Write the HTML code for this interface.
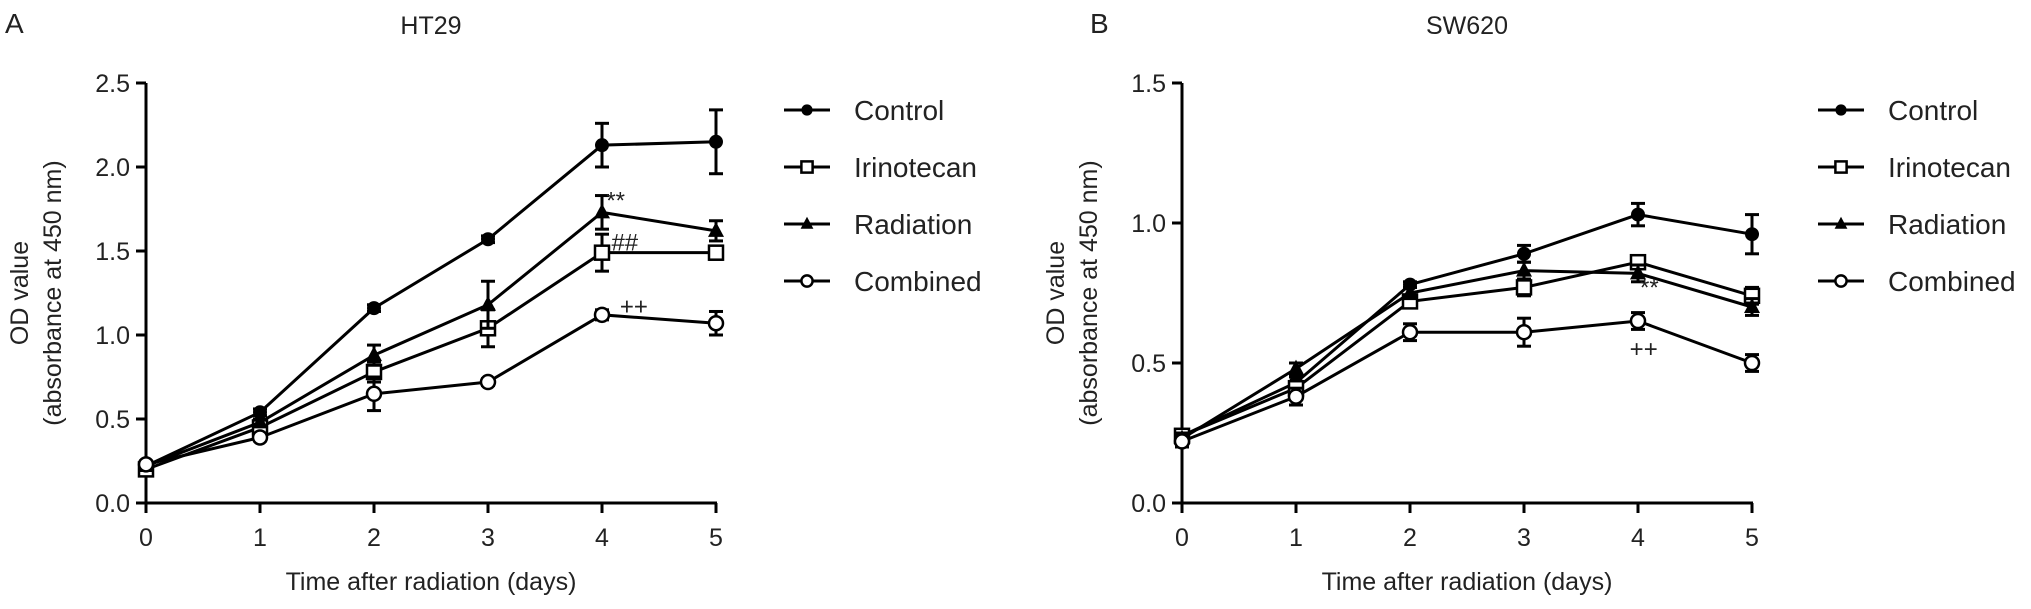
<!DOCTYPE html>
<html><head><meta charset="utf-8"><style>
html,body{margin:0;padding:0;background:#fff;}
svg{display:block;font-family:"Liberation Sans",Arial,sans-serif;}
</style></head><body>
<svg id="fig" width="2031" height="609" viewBox="0 0 2031 609" xmlns="http://www.w3.org/2000/svg"></svg>
<script>
const days = [0,1,2,3,4,5];
const seriesNames = ["Control","Irinotecan","Radiation","Combined"];
const markers = ["circle-filled","square-open","triangle-filled","circle-open"];
const aControl = [0.22,0.54,1.16,1.57,2.13,2.15];
const aControlErr = [0.02,0.02,0.02,0.02,0.13,0.19];
const aIrino = [0.20,0.45,0.78,1.04,1.49,1.49];
const aIrinoErr = [0.02,0.02,0.06,0.11,0.11,0.04];
const aRad = [0.22,0.48,0.88,1.18,1.73,1.62];
const aRadErr = [0.02,0.02,0.06,0.14,0.10,0.06];
const aComb = [0.23,0.39,0.65,0.72,1.12,1.07];
const aCombErr = [0.02,0.02,0.10,0.02,0.03,0.07];
const bControl = [0.24,0.43,0.78,0.89,1.03,0.96];
const bControlErr = [0.02,0.02,0.01,0.03,0.04,0.07];
const bIrino = [0.24,0.41,0.72,0.77,0.86,0.74];
const bIrinoErr = [0.02,0.02,0.02,0.03,0.02,0.03];
const bRad = [0.23,0.48,0.75,0.83,0.82,0.70];
const bRadErr = [0.02,0.02,0.02,0.03,0.03,0.03];
const bComb = [0.22,0.38,0.61,0.61,0.65,0.50];
const bCombErr = [0.02,0.03,0.03,0.05,0.03,0.03];
const aTicks = [0,0.5,1.0,1.5,2.0,2.5];
const aTickLabels = ["0.0","0.5","1.0","1.5","2.0","2.5"];
const bTicks = [0,0.5,1.0,1.5];
const bTickLabels = ["0.0","0.5","1.0","1.5"];
const aAnnot = [{t:"**",x:4.12,y:1.80},{t:"##",x:4.2,y:1.55},{t:"++",x:4.28,y:1.17}];
const bAnnot = [{t:"**",x:4.1,y:0.77},{t:"++",x:4.05,y:0.55}];

const NS="http://www.w3.org/2000/svg";
const svg=document.getElementById('fig');
function mk(tag,attrs,parent){const e=document.createElementNS(NS,tag);for(const k in attrs)e.setAttribute(k,attrs[k]);(parent||svg).appendChild(e);return e;}

function panel(cfg){
  const g=mk('g',{});
  
  
  const X=d=>cfg.x0+d*114;
  const Y=v=>503-(v/cfg.ymax)*(503-83);
  const ya=mk('line',{x1:cfg.x0,y1:83,x2:cfg.x0,y2:505,stroke:'#000','stroke-width':3},g);
  
  
  const xa=mk('line',{x1:cfg.x0-10,y1:503,x2:X(5)+1,y2:503,stroke:'#000','stroke-width':3},g);
  
  
  cfg.ticks.forEach((t,i)=>{
    mk('line',{x1:cfg.x0-10,y1:Y(t),x2:cfg.x0,y2:Y(t),stroke:'#000','stroke-width':3},g);
    const tx=mk('text',{x:cfg.x0-16,y:Y(t)+9,'text-anchor':'end','font-size':25,fill:'#222'},g);
    tx.textContent=cfg.tickLabels[i];
    
    
  });
  days.forEach(d=>{
    mk('line',{x1:X(d),y1:503,x2:X(d),y2:513,stroke:'#000','stroke-width':3},g);
    const tx=mk('text',{x:X(d),y:546,'text-anchor':'middle','font-size':25,fill:'#222'},g);
    tx.textContent=String(d);
    
    
  });
  const xt=mk('text',{x:X(2.5),y:590,'text-anchor':'middle','font-size':25,fill:'#222'},g);
  xt.textContent='Time after radiation (days)';
  
  
  const yt=mk('text',{transform:`translate(${cfg.x0-118},293) rotate(-90)`,'text-anchor':'middle','font-size':25,fill:'#222'},g);
  
  
  const t1=mk('tspan',{x:0,dy:0},yt);t1.textContent='OD value';
  const t2=mk('tspan',{x:0,dy:33},yt);t2.textContent='(absorbance at 450 nm)';
  const tt=mk('text',{x:X(2.5),y:34,'text-anchor':'middle','font-size':25,fill:'#222'},g);
  tt.textContent=cfg.title;
  
  
  const pl=mk('text',{x:cfg.letterX,y:33,'font-size':28,fill:'#222'},g);
  pl.textContent=cfg.letter;
  
  
  cfg.series.forEach((s,si)=>{
    const sg=mk('g',{},g);
    
    
    const pts=days.map((d,i)=>X(d)+','+Y(s.v[i])).join(' ');
    mk('polyline',{points:pts,fill:'none',stroke:'#000','stroke-width':3},sg);
    days.forEach((d,i)=>{
      const cx=X(d),cy=Y(s.v[i]),e=s.e[i];
      const y1=Y(s.v[i]+e),y2=Y(s.v[i]-e);
      mk('line',{x1:cx,y1:y1,x2:cx,y2:y2,stroke:'#000','stroke-width':3},sg);
      mk('line',{x1:cx-7,y1:y1,x2:cx+7,y2:y1,stroke:'#000','stroke-width':3},sg);
      mk('line',{x1:cx-7,y1:y2,x2:cx+7,y2:y2,stroke:'#000','stroke-width':3},sg);
      drawMarker(sg,markers[si],cx,cy,1);
    });
  });
  cfg.annot.forEach(a=>{
    const tx=mk('text',{x:X(a.x),y:Y(a.y)+8,'text-anchor':'middle','font-size':24,fill:'#222'},g);
    tx.textContent=a.t;
    
    
  });
  seriesNames.forEach((n,i)=>{
    const lg=mk('g',{},g);
    
    
    const ly=110+i*57;
    mk('line',{x1:cfg.legX-23,y1:ly,x2:cfg.legX+23,y2:ly,stroke:'#000','stroke-width':3},lg);
    drawMarker(lg,markers[i],cfg.legX,ly,0.8);
    const tx=mk('text',{x:cfg.legX+47,y:ly+10,'font-size':28,fill:'#222'},lg);
    tx.textContent=n;
  });
}
function drawMarker(p,type,cx,cy,s){
  if(type==='circle-filled')mk('circle',{cx,cy,r:7*s,fill:'#000'},p);
  else if(type==='circle-open')mk('circle',{cx,cy,r:7*s,fill:'#fff',stroke:'#000','stroke-width':2.5},p);
  else if(type==='square-open')mk('rect',{x:cx-7*s,y:cy-7*s,width:14*s,height:14*s,fill:'#fff',stroke:'#000','stroke-width':2.5},p);
  else mk('polygon',{points:`${cx},${cy-9*s} ${cx+8*s},${cy+6*s} ${cx-8*s},${cy+6*s}`,fill:'#000'},p);
}
panel({id:'ht29',x0:146,ymax:2.5,ticks:aTicks,tickLabels:aTickLabels,title:'HT29',letter:'A',letterX:5,legX:807,annot:aAnnot,
  series:[{v:aControl,e:aControlErr},{v:aIrino,e:aIrinoErr},{v:aRad,e:aRadErr},{v:aComb,e:aCombErr}]});
panel({id:'sw620',x0:1182,ymax:1.5,ticks:bTicks,tickLabels:bTickLabels,title:'SW620',letter:'B',letterX:1090,legX:1841,annot:bAnnot,
  series:[{v:bControl,e:bControlErr},{v:bIrino,e:bIrinoErr},{v:bRad,e:bRadErr},{v:bComb,e:bCombErr}]});
</script>
</body></html>
